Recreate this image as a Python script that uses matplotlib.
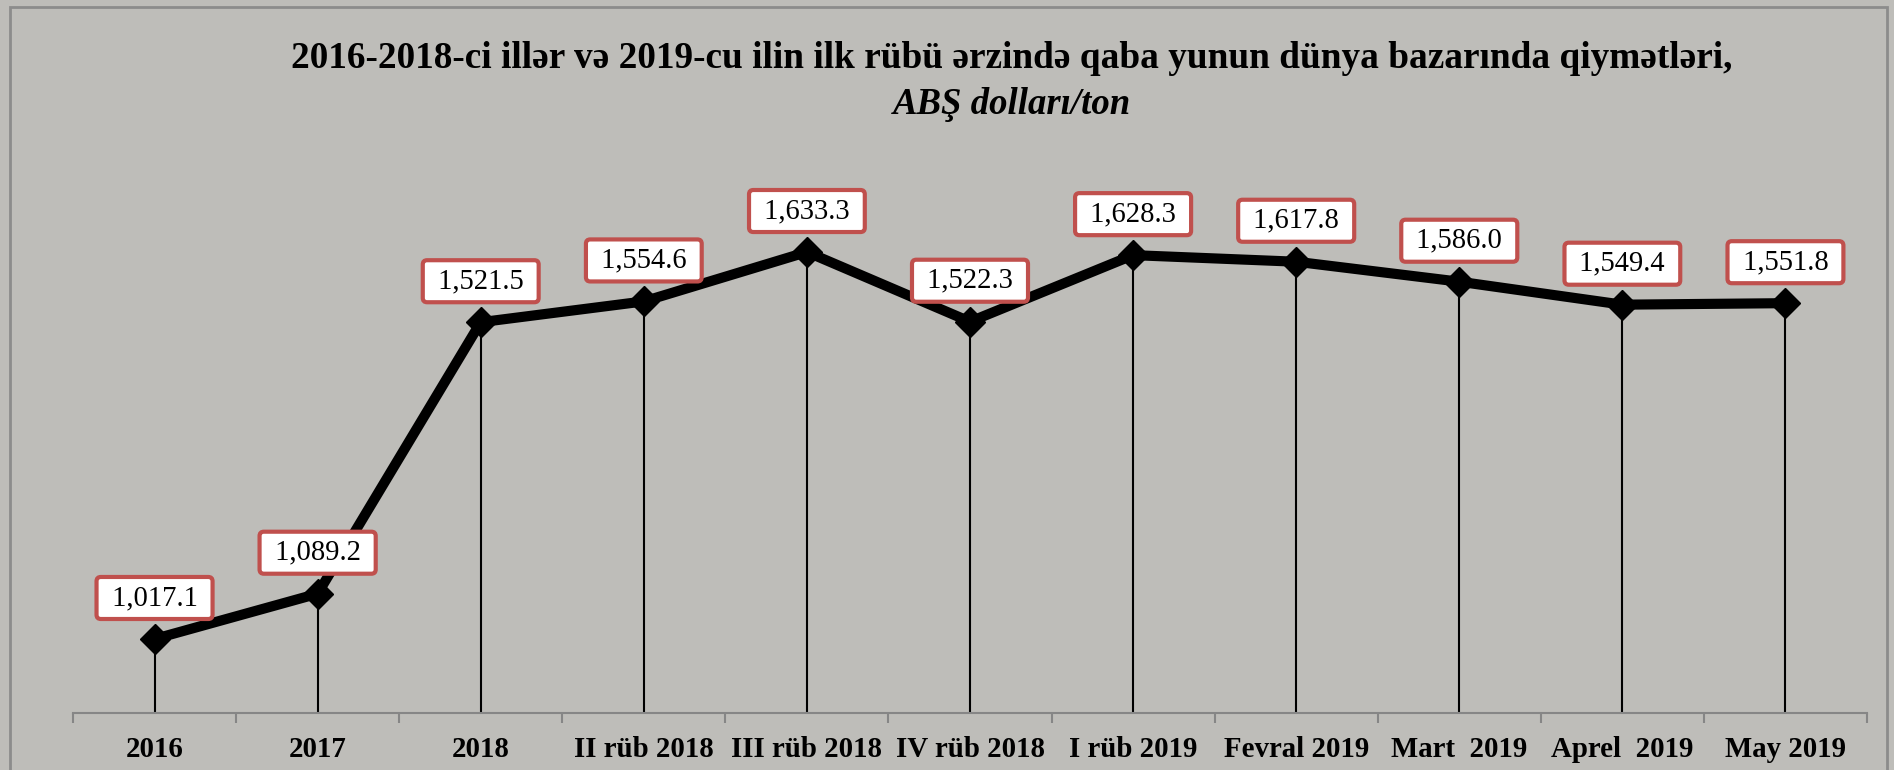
import matplotlib
matplotlib.use('Agg')
import matplotlib.pyplot as plt
from matplotlib.patches import Rectangle
import numpy as np

categories = ['2016', '2017', '2018', 'II rüb 2018', 'III rüb 2018', 'IV rüb 2018',
              'I rüb 2019', 'Fevral 2019', 'Mart  2019', 'Aprel  2019', 'May 2019']
prices = [1017.1, 1089.2, 1521.5, 1554.6, 1633.3, 1522.3, 1628.3, 1617.8, 1586.0, 1549.4, 1551.8]
title_line1 = "2016-2018-ci illər və 2019-cu ilin ilk rübü ərzində qaba yunun dünya bazarında qiymətləri,"
title_line2 = "ABŞ dolları/ton"

plt.rcParams['font.family'] = ['Liberation Serif', 'DejaVu Serif']

W, H = 1894, 770
fig = plt.figure(figsize=(W / 100, H / 100), dpi=100)
fig.patch.set_facecolor('#bebdb9')

ax = fig.add_axes([73 / W, 1 - 712.5 / H, (1867 - 73) / W, (712.5 - 147.3) / H])
ax.set_facecolor('none')

x = np.arange(len(categories))
ymin, ymax = 900, 1800
ax.vlines(x, ymin, prices, color='black', lw=1.5, zorder=2)
ax.plot(x, prices, color='black', lw=7.3, marker='D', ms=15, zorder=3)

for xi, v in zip(x, prices):
    ax.annotate(f" {v:,.1f} ", (xi, v), xytext=(0, 29.5), textcoords='offset points',
                ha='center', va='center', fontsize=20.6, color='black', zorder=5,
                bbox=dict(boxstyle='round,pad=0.28,rounding_size=0.15', fc='white',
                          ec='#c0504d', lw=3))

ax.set_xlim(-0.5, len(categories) - 0.5)
ax.set_ylim(ymin, ymax)
ax.set_yticks([])
for s in ('top', 'left', 'right'):
    ax.spines[s].set_visible(False)
ax.spines['bottom'].set_color('#868686')
ax.spines['bottom'].set_linewidth(1.5)
ax.set_xticks(x)
ax.set_xticklabels(categories, fontsize=20.8, fontweight='bold')
ax.tick_params(axis='x', which='major', length=0, pad=17)
ax.set_xticks(np.arange(-0.5, len(categories), 1), minor=True)
ax.tick_params(axis='x', which='minor', length=7, width=1.5, color='#868686')

t1 = fig.text(1012 / W, 1 - 58 / H, title_line1, ha='center', va='center',
              fontweight='bold', fontsize=24)
t2 = fig.text(1012 / W, 1 - 104 / H, title_line2, ha='center', va='center',
              fontweight='bold', fontstyle='italic', fontsize=24)

# fit title widths to the reference
fig.canvas.draw()
r = fig.canvas.get_renderer()
for t, target in ((t1, 1440), (t2, 239)):
    w = t.get_window_extent(r).width
    t.set_fontsize(t.get_fontsize() * target / w)

fig.add_artist(Rectangle((10 / W, -0.05), (1887 - 10) / W, 1 - 7 / H + 0.05,
                         transform=fig.transFigure, fill=False, ec='#8c8c8c', lw=2))

fig.savefig('out.png', dpi=100, facecolor=fig.get_facecolor())
